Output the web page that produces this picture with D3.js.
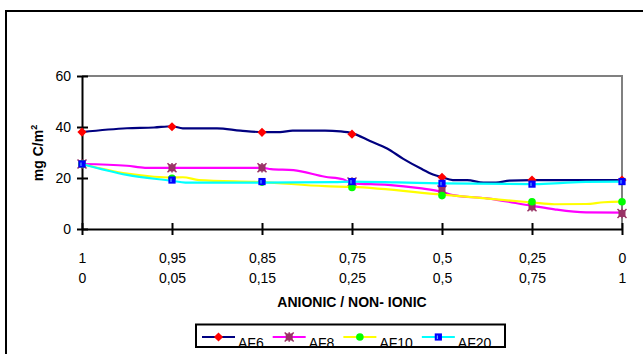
<!DOCTYPE html>
<html>
<head>
<meta charset="utf-8">
<script src="https://cdn.jsdelivr.net/npm/d3@7"></script>
<style>
  html, body { margin: 0; padding: 0; background: #fff; }
  svg { display: block; }
  text { font-family: "Liberation Sans", Arial, sans-serif; }
</style>
</head>
<body>
<svg id="chart" width="643" height="354"></svg>
<script>
// ---- data ----
const categoriesTop = ["1", "0,95", "0,85", "0,75", "0,5", "0,25", "0"];
const categoriesBottom = ["0", "0,05", "0,15", "0,25", "0,5", "0,75", "1"];
const yTicks = [0, 20, 40, 60];
const seriesNames = ["AF6", "AF8", "AF10", "AF20"];

// marker values at each category
const af6 = [38, 40.1, 37.9, 37.2, 20.3, 19.2, 19.2];
const af8 = [25.5, 24, 24, 18.4, 15.3, 8.7, 6.1];
const af10 = [25.5, 19.9, 18.4, 16.3, 13.1, 10.7, 10.7];
const af20 = [25.5, 19.2, 18.6, 18.6, 17.9, 17.6, 18.6];

// traced curve of each line: [category position, value]
const af6Trace = [[0,38],[0.5,39.5],[0.8,39.8],[1,40.3],[1.12,39.5],[1.5,39.5],[1.76,38.6],[2,38],[2.2,38],[2.34,38.6],[2.7,38.6],[2.87,38.3],[3,37.6],[3.2,34.5],[3.39,31.6],[3.57,27.5],[3.76,23.8],[3.9,21.4],[4,20.3],[4.12,19.2],[4.28,19.2],[4.46,18.2],[4.6,18.2],[4.75,19],[5,19.2],[6,19.2]];
const af8Trace = [[0,25.5],[0.5,24.8],[0.7,24],[1,24],[2,24],[2.1,23.5],[2.35,23.1],[2.7,20.5],[2.9,19.5],[3,17.9],[3.4,17.3],[3.75,16],[4,14.6],[4.12,13.3],[4.5,12],[5,9.1],[5.25,7.7],[5.6,6.5],[6,6.4]];
const af10Trace = [[0,25.5],[0.5,21.7],[0.8,20.5],[1,20.2],[1.12,20.3],[1.3,19.2],[2,18.4],[2.7,16.8],[3,16.5],[4,13.5],[5,10.4],[5.25,9.7],[5.6,9.8],[5.8,10.5],[6,10.7]];
const af20Trace = [[0,25.5],[0.5,21.2],[1,18.9],[1.15,18.2],[2,18.2],[2.8,18.4],[3,18.6],[3.5,18.3],[4,17.9],[5,17.6],[5.25,17.9],[5.6,18.5],[6,18.6]];

// ---- drawing ----
(function () {
const svg = d3.select("#chart");
svg.append("rect").attr("width", 643).attr("height", 354).attr("fill", "#fff");

// outer chart frame (extends past window)
svg.append("rect").attr("x", 6).attr("y", 11).attr("width", 700).attr("height", 400)
  .attr("fill", "none").attr("stroke", "#000").attr("stroke-width", 2);

const pLeft = 82, pRight = 622, pTop = 76, pBottom = 229;
const x = d3.scaleLinear().domain([0, categoriesTop.length - 1]).range([pLeft, pRight]);
const y = d3.scaleLinear().domain([0, 60]).range([pBottom, pTop]);

// plot area border (gray top and right)
svg.append("path")
  .attr("d", `M${pLeft},${pTop}H${pRight}V${pBottom}`)
  .attr("fill", "none").attr("stroke", "#808080").attr("stroke-width", 2);

// y axis
const yAxis = svg.append("g").attr("transform", `translate(${pLeft},0)`)
  .call(d3.axisLeft(y).tickValues(yTicks).tickSize(0).tickPadding(11).tickFormat(d3.format("d")));
yAxis.select(".domain").attr("stroke", "#000").attr("stroke-width", 2);
yAxis.selectAll("text").attr("font-size", 14).attr("fill", "#000")
  .attr("font-family", "Liberation Sans, Arial, sans-serif");
yAxis.selectAll(".tick").append("line").attr("x1", -5).attr("x2", 6)
  .attr("stroke", "#000").attr("stroke-width", 2);

// x axis
const idx = d3.range(categoriesTop.length);
const xAxis = svg.append("g").attr("transform", `translate(0,${pBottom})`)
  .call(d3.axisBottom(x).tickValues(idx).tickSize(0).tickFormat(""));
xAxis.select(".domain").attr("stroke", "#000").attr("stroke-width", 2);
xAxis.selectAll(".tick").append("line").attr("y1", -6).attr("y2", 6)
  .attr("stroke", "#000").attr("stroke-width", 2);
xAxis.selectAll(".tick").append("text").attr("y", 34).attr("text-anchor", "middle")
  .attr("font-size", 14).attr("fill", "#000").text(i => categoriesTop[i]);
xAxis.selectAll(".tick").append("text").attr("y", 54).attr("text-anchor", "middle")
  .attr("font-size", 14).attr("fill", "#000").text(i => categoriesBottom[i]);

// axis titles
svg.append("text").attr("x", (pLeft + pRight) / 2).attr("y", 307).attr("text-anchor", "middle")
  .attr("font-size", 14).attr("font-weight", "bold").text("ANIONIC / NON- IONIC");
const yt = svg.append("text").attr("transform", "translate(43,153) rotate(-90)")
  .attr("text-anchor", "middle").attr("font-size", 14).attr("font-weight", "bold");
yt.append("tspan").text("mg C/m");
yt.append("tspan").attr("dy", -6).attr("font-size", 9).text("2");

// marker painters
function marker(g, type, cx, cy) {
  if (type === "diamond") {
    g.append("path").attr("d", `M${cx},${cy-4.6}L${cx+4.6},${cy}L${cx},${cy+4.6}L${cx-4.6},${cy}Z`)
      .attr("fill", "#ff0000");
  } else if (type === "star") {
    g.append("rect").attr("x", cx-3.5).attr("y", cy-3.5).attr("width", 7).attr("height", 7).attr("fill", "#993366");
    g.append("path").attr("d", `M${cx-4.5},${cy-4.5}L${cx+4.5},${cy+4.5}M${cx+4.5},${cy-4.5}L${cx-4.5},${cy+4.5}M${cx},${cy-4.8}V${cy+4.8}`)
      .attr("stroke", "#993366").attr("stroke-width", 1.5);
  } else if (type === "circle") {
    g.append("circle").attr("cx", cx).attr("cy", cy).attr("r", 3.8).attr("fill", "#00ff00");
  } else {
    g.append("rect").attr("x", cx-3.6).attr("y", cy-3.6).attr("width", 7.2).attr("height", 7.2)
      .attr("fill", "#0000ff");
    g.append("line").attr("x1", cx-1).attr("x2", cx-1).attr("y1", cy-1.5).attr("y2", cy+2)
      .attr("stroke", "#66ccff").attr("stroke-width", 1);
  }
}

const series = [
  { name: seriesNames[0], vals: af6, trace: af6Trace, color: "#000080", m: "diamond" },
  { name: seriesNames[1], vals: af8, trace: af8Trace, color: "#ff00ff", m: "star" },
  { name: seriesNames[2], vals: af10, trace: af10Trace, color: "#ffff00", m: "circle" },
  { name: seriesNames[3], vals: af20, trace: af20Trace, color: "#00ffff", m: "square" }
];

const line = d3.line().x(d => x(d[0])).y(d => y(d[1])).curve(d3.curveMonotoneX);

series.forEach(s => {
  const g = svg.append("g");
  g.append("path").attr("d", line(s.trace)).attr("fill", "none")
    .attr("stroke", s.color).attr("stroke-width", 2.2).attr("stroke-linejoin", "round");
  s.vals.forEach((v, i) => marker(g, s.m, x(i), y(v)));
});

// legend
const lg = svg.append("g");
let lx = 202;
const ly = 337;
series.forEach(s => {
  lg.append("line").attr("x1", lx).attr("x2", lx + 33).attr("y1", ly).attr("y2", ly)
    .attr("stroke", s.color).attr("stroke-width", 2.2);
  marker(lg, s.m, lx + 16.5, ly);
  const t = lg.append("text").attr("x", lx + 36).attr("y", 347.5).attr("font-size", 14).text(s.name);
  lx += 36 + t.node().getComputedTextLength() + 9;
});
lg.append("rect").attr("x", 196).attr("y", 324.5).attr("width", 309).attr("height", 22.5)
  .attr("fill", "none").attr("stroke", "#000").attr("stroke-width", 2);
})();
</script>
</body>
</html>
